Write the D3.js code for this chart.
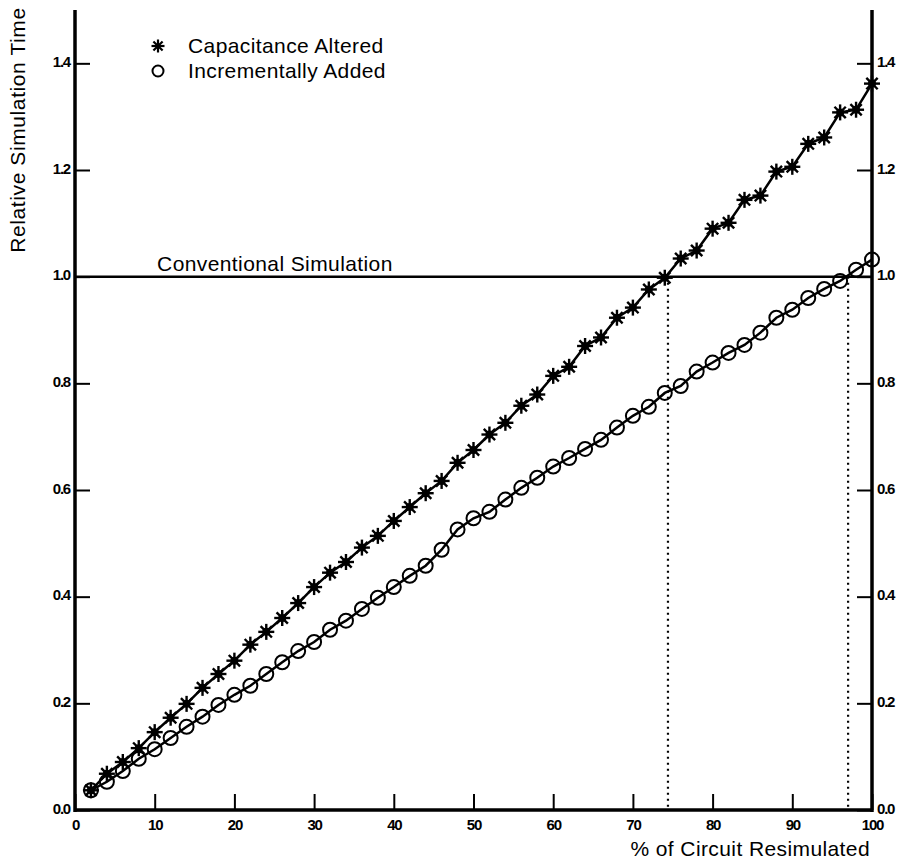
<!DOCTYPE html>
<html>
<head>
<meta charset="utf-8">
<script src="https://cdn.jsdelivr.net/npm/d3@7"></script>
<style>
  body { margin: 0; background: #fff; }
  text { font-family: "Liberation Sans", Arial, sans-serif; fill: #000; }
</style>
</head>
<body>
<div id="chart"></div>
<script>
// % of circuit resimulated
var pct = [2, 4, 6, 8, 10, 12, 14, 16, 18, 20, 22, 24, 26, 28, 30, 32, 34, 36, 38, 40,
           42, 44, 46, 48, 50, 52, 54, 56, 58, 60, 62, 64, 66, 68, 70, 72, 74, 76, 78, 80,
           82, 84, 86, 88, 90, 92, 94, 96, 98, 100];

// relative simulation time
var capacitanceAltered = [0.037, 0.068, 0.090, 0.116, 0.146, 0.173, 0.199, 0.229, 0.255, 0.280,
                          0.310, 0.334, 0.360, 0.388, 0.418, 0.445, 0.465, 0.492, 0.514, 0.542,
                          0.568, 0.594, 0.617, 0.651, 0.675, 0.704, 0.726, 0.758, 0.779, 0.814,
                          0.831, 0.870, 0.886, 0.923, 0.942, 0.976, 0.998, 1.034, 1.049, 1.090,
                          1.101, 1.144, 1.152, 1.197, 1.206, 1.249, 1.261, 1.308, 1.313, 1.362];

var incrementallyAdded = [0.037, 0.053, 0.073, 0.096, 0.114, 0.135, 0.156, 0.175, 0.197, 0.216,
                          0.233, 0.255, 0.277, 0.298, 0.315, 0.338, 0.355, 0.377, 0.398, 0.418,
                          0.439, 0.458, 0.488, 0.526, 0.547, 0.559, 0.582, 0.604, 0.623, 0.644,
                          0.660, 0.677, 0.694, 0.717, 0.739, 0.756, 0.782, 0.795, 0.822, 0.839,
                          0.857, 0.872, 0.895, 0.923, 0.938, 0.960, 0.977, 0.992, 1.013, 1.032];

var xTicks = [0, 10, 20, 30, 40, 50, 60, 70, 80, 90, 100];
var yTicks = [0.0, 0.2, 0.4, 0.6, 0.8, 1.0, 1.2, 1.4];

var conventional = 1.0;
// where each curve crosses the conventional time
var crossings = [74.4, 97.0];

var legendNames = ["Capacitance Altered", "Incrementally Added"];

var width = 906, height = 861;
var margin = {top: 10, right: 34, bottom: 51, left: 75};
var labelFont = "21px";

var svg = d3.select("#chart").append("svg")
    .attr("width", width)
    .attr("height", height);

var x = d3.scaleLinear()
    .domain([0, 100])
    .range([margin.left, width - margin.right]);

var y = d3.scaleLinear()
    .domain([0, 1.5])
    .range([height - margin.bottom, margin.top]);

// conventional simulation reference line
svg.append("line")
    .attr("x1", x(0)).attr("x2", x(100))
    .attr("y1", y(conventional)).attr("y2", y(conventional))
    .attr("stroke", "#000")
    .attr("stroke-width", 2.5);

svg.append("text")
    .attr("x", x(10.3))
    .attr("y", y(conventional) - 6)
    .style("font-size", labelFont)
    .style("letter-spacing", "0.4px")
    .text("Conventional Simulation");

// dotted drop lines
svg.selectAll(".drop")
    .data(crossings)
  .enter().append("line")
    .attr("class", "drop")
    .attr("x1", function(d) { return x(d); })
    .attr("x2", function(d) { return x(d); })
    .attr("y1", y(conventional))
    .attr("y2", y(0))
    .attr("stroke", "#000")
    .attr("stroke-width", 2.2)
    .attr("stroke-dasharray", "2,4");

// axes, ticks point inward
var axisLeft = d3.axisLeft(y).tickValues(yTicks).tickSize(-15).tickPadding(5)
    .tickFormat(d3.format(".1f"));
var axisRight = d3.axisRight(y).tickValues(yTicks).tickSize(-15).tickPadding(5)
    .tickFormat(d3.format(".1f"));
var axisBottom = d3.axisBottom(x).tickValues(xTicks).tickSize(-16).tickPadding(9);

function styleAxis(g) {
  g.select(".domain").remove();
  g.selectAll(".tick line").attr("stroke", "#000").attr("stroke-width", 2);
  g.selectAll(".tick text")
      .attr("fill", "#000")
      .style("font-size", "15px")
      .style("font-weight", "bold")
      .style("letter-spacing", "-1.2px")
      .style("font-family", "'Liberation Sans', Arial, sans-serif");
}

svg.append("g")
    .attr("transform", "translate(" + x(0) + ",0)")
    .call(axisLeft)
    .call(styleAxis)
    .selectAll(".tick text").attr("dy", "0.2em");

svg.append("g")
    .attr("transform", "translate(" + x(100) + ",0)")
    .call(axisRight)
    .call(styleAxis)
    .selectAll(".tick text").attr("dy", "0.2em");

svg.append("g")
    .attr("transform", "translate(0," + y(0) + ")")
    .call(axisBottom)
    .call(styleAxis);

// axis frame lines (left, right, bottom)
var frame = svg.append("g").attr("stroke", "#000").attr("stroke-width", 3.5);
frame.append("line").attr("x1", x(0)).attr("x2", x(0)).attr("y1", y(1.5)).attr("y2", y(0) + 2);
frame.append("line").attr("x1", x(100)).attr("x2", x(100)).attr("y1", y(1.5)).attr("y2", y(0) + 2);
frame.append("line").attr("x1", x(0)).attr("x2", x(100)).attr("y1", y(0)).attr("y2", y(0));

// axis titles
svg.append("text")
    .attr("transform", "translate(25,130) rotate(-90)")
    .attr("text-anchor", "middle")
    .style("font-size", labelFont)
    .style("letter-spacing", "0.6px")
    .text("Relative Simulation Time");

svg.append("text")
    .attr("x", x(100) - 2)
    .attr("y", height - 5)
    .attr("text-anchor", "end")
    .style("font-size", labelFont)
    .style("letter-spacing", "0.4px")
    .text("% of Circuit Resimulated");

// series lines
var line = d3.line()
    .x(function(d) { return x(d[0]); })
    .y(function(d) { return y(d[1]); });

var capData = pct.map(function(p, i) { return [p, capacitanceAltered[i]]; });
var incData = pct.map(function(p, i) { return [p, incrementallyAdded[i]]; });

svg.append("path")
    .attr("d", line(incData))
    .attr("fill", "none")
    .attr("stroke", "#000")
    .attr("stroke-width", 2.5);

svg.append("path")
    .attr("d", line(capData))
    .attr("fill", "none")
    .attr("stroke", "#000")
    .attr("stroke-width", 2.5);

// asterisk marker
function star(g, r, w, dot) {
  [0, 45, 90, 135].forEach(function(a) {
    var rad = a * Math.PI / 180;
    g.append("line")
      .attr("x1", -r * Math.cos(rad)).attr("y1", -r * Math.sin(rad))
      .attr("x2", r * Math.cos(rad)).attr("y2", r * Math.sin(rad))
      .attr("stroke", "#000").attr("stroke-width", w);
  });
  g.append("circle").attr("r", dot).attr("fill", "#000");
}

svg.selectAll(".circ")
    .data(incData)
  .enter().append("circle")
    .attr("class", "circ")
    .attr("cx", function(d) { return x(d[0]); })
    .attr("cy", function(d) { return y(d[1]); })
    .attr("r", 7)
    .attr("fill", "none")
    .attr("stroke", "#000")
    .attr("stroke-width", 2);

svg.selectAll(".star")
    .data(capData)
  .enter().append("g")
    .attr("class", "star")
    .attr("transform", function(d) { return "translate(" + x(d[0]) + "," + y(d[1]) + ")"; })
    .each(function() { star(d3.select(this), 8, 2.4, 4); });

// legend
var legend = svg.append("g");
var lg0 = legend.append("g").attr("transform", "translate(158,46)");
star(lg0, 6.5, 2.2, 2.5);
legend.append("circle")
    .attr("cx", 158).attr("cy", 71).attr("r", 5.5)
    .attr("fill", "none").attr("stroke", "#000").attr("stroke-width", 2);

legend.selectAll(".lg-text")
    .data(legendNames)
  .enter().append("text")
    .attr("class", "lg-text")
    .attr("x", 188)
    .attr("y", function(d, i) { return 53 + i * 25; })
    .style("font-size", labelFont)
    .style("letter-spacing", "0.4px")
    .text(function(d) { return d; });
</script>
</body>
</html>
